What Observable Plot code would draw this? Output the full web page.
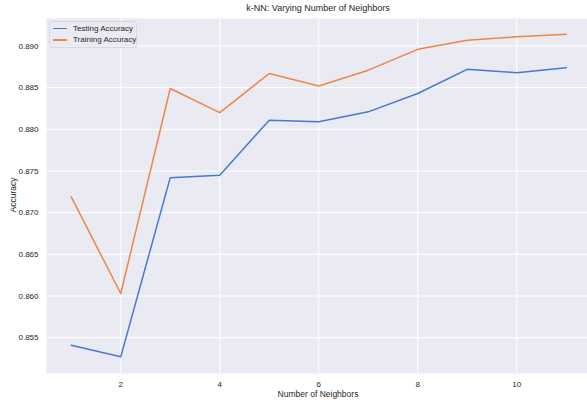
<!DOCTYPE html>
<html>
<head>
<meta charset="utf-8">
<script src="https://cdn.jsdelivr.net/npm/d3@7"></script>
<script src="https://cdn.jsdelivr.net/npm/@observablehq/plot@0.6"></script>
<style>
  html, body { margin: 0; padding: 0; background: #fff; overflow: hidden; }
  #wrap { position: relative; width: 587px; height: 400px; font-family: "Liberation Sans", Arial, sans-serif; color: #262626; }
  #title { position: absolute; top: 4px; left: 46px; width: 544px; text-align: center; font-size: 9px; line-height: 1; }
  #ylab { position: absolute; left: 13px; top: 195px; transform: translate(-50%, -50%) rotate(-90deg); font-size: 8.5px; white-space: nowrap; line-height: 1; }
  #xlab { position: absolute; top: 390px; left: 46px; width: 544px; text-align: center; font-size: 8.5px; line-height: 1; }
  #legend { position: absolute; left: 49px; top: 21px; width: 86px; height: 25px; background: rgba(234,234,242,0.8); border: 1px solid #d8d8e0; border-radius: 3px; font-size: 8px; line-height: 1; }
  .row { position: absolute; left: 3px; display: flex; align-items: center; white-space: nowrap; height: 10px; }
  .sw { display: inline-block; flex: 0 0 14px; width: 14px; height: 1.5px; margin-right: 6px; }
  svg { position: absolute; left: 0; top: 0; }
</style>
</head>
<body>
<div id="wrap"></div>
<script>
const neighbors = [1, 2, 3, 4, 5, 6, 7, 8, 9, 10, 11];
const testAcc = [0.8541, 0.8527, 0.8742, 0.8745, 0.8811, 0.8809, 0.8821, 0.8843, 0.8872, 0.8868, 0.8874];
const trainAcc = [0.8719, 0.8603, 0.8849, 0.8820, 0.8867, 0.8852, 0.8871, 0.8896, 0.8907, 0.8911, 0.8914];
const seriesNames = ["Testing Accuracy", "Training Accuracy"];
const seriesColors = ["#4878d0", "#ee854a"];
const xTicks = [2, 4, 6, 8, 10];
const yTicks = [0.855, 0.860, 0.865, 0.870, 0.875, 0.880, 0.885, 0.890];

const data = [];
neighbors.forEach((k, i) => {
  data.push({k, acc: testAcc[i], series: seriesNames[0]});
  data.push({k, acc: trainAcc[i], series: seriesNames[1]});
});

const chart = Plot.plot({
  width: 587,
  height: 400,
  marginTop: 18,
  marginBottom: 27,
  marginLeft: 46,
  marginRight: 0,
  style: { fontFamily: "Liberation Sans, Arial, sans-serif", fontSize: "8px", color: "#262626", background: "transparent", overflow: "visible" },
  x: { domain: [0.5, 11.43], label: null },
  y: { domain: [0.8507, 0.8933], label: null },
  color: { domain: seriesNames, range: seriesColors },
  marks: [
    Plot.frame({ fill: "#eaeaf2", stroke: "none" }),
    Plot.gridX(xTicks, { stroke: "#ffffff", strokeOpacity: 1, strokeWidth: 1 }),
    Plot.gridY(yTicks, { stroke: "#ffffff", strokeOpacity: 1, strokeWidth: 1 }),
    Plot.axisX(xTicks, { tickSize: 0, tickPadding: 8, label: null, tickFormat: d => String(d), fill: "#262626" }),
    Plot.axisY(yTicks, { tickSize: 0, tickPadding: 8, label: null, tickFormat: d3.format(".3f"), fill: "#262626" }),
    Plot.line(data, { x: "k", y: "acc", stroke: "series", z: "series", strokeWidth: 1.5 })
  ]
});

const wrap = document.getElementById("wrap");
wrap.appendChild(chart);

const title = document.createElement("div");
title.id = "title"; title.textContent = "k-NN: Varying Number of Neighbors";
wrap.appendChild(title);
const ylab = document.createElement("div");
ylab.id = "ylab"; ylab.textContent = "Accuracy";
wrap.appendChild(ylab);
const xlab = document.createElement("div");
xlab.id = "xlab"; xlab.textContent = "Number of Neighbors";
wrap.appendChild(xlab);

const legend = document.createElement("div");
legend.id = "legend";
seriesNames.forEach((name, i) => {
  const row = document.createElement("div");
  row.className = "row";
  row.style.top = (1.5 + i * 11.5) + "px";
  const sw = document.createElement("span");
  sw.className = "sw"; sw.style.background = seriesColors[i];
  const t = document.createElement("span");
  t.textContent = name;
  row.appendChild(sw); row.appendChild(t);
  legend.appendChild(row);
});
wrap.appendChild(legend);
</script>
</body>
</html>
